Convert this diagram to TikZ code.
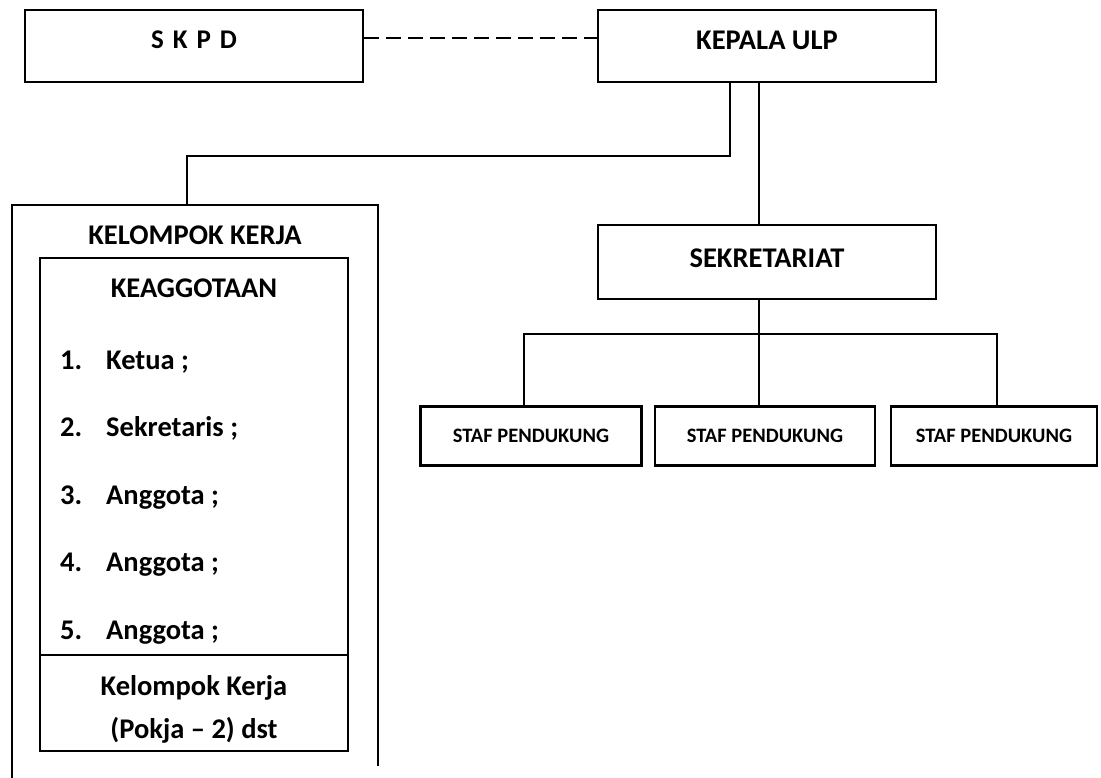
\documentclass[tikz,border=0pt]{standalone}
\usepackage{fontspec}
\setmainfont{Carlito}
\usetikzlibrary{positioning}
\tikzset{
  box/.style={draw, line width=2.5pt, inner sep=0pt, minimum width=338pt, minimum height=72pt},
  stafbox/.style={draw, line width=2.5pt, inner sep=0pt, minimum height=59pt, font=\bfseries\fontsize{20.5}{22}\selectfont},
  big/.style={font=\bfseries\fontsize{28.5}{32}\selectfont, inner sep=0pt},
  conn/.style={line width=2.2pt},
  item/.style={big, anchor=west, text height=20pt, text depth=6pt}
}
\begin{document}
\begin{tikzpicture}[x=1pt,y=-1pt]
\useasboundingbox (0,0) rectangle (1101,778);
% top boxes
\node[box, font=\bfseries\fontsize{27}{30}\selectfont, text depth=12pt] (skpd) at (194,46) {S\hspace{0.33em}K\hspace{0.33em}P\hspace{0.33em}D};
\node[box, big, text depth=12pt] (kep) at (767,46) {KEPALA ULP};
\node[box, big, minimum height=74pt, text depth=8pt] (sek) at (767,262) {SEKRETARIAT};
% staff boxes
\node[stafbox, minimum width=221pt] (s1) at (531,436) {STAF PENDUKUNG};
\node[stafbox, minimum width=220pt] (s2) at (765,436) {STAF PENDUKUNG};
\node[stafbox, minimum width=206pt] (s3) at (994,436) {STAF PENDUKUNG};
% kelompok kerja outer frame (bottom edge outside the picture)
\node[minimum width=366pt, minimum height=573pt, inner sep=0pt] (kk) at (195,491.5) {};
\draw[line width=2.5pt] (kk.south west) -- (kk.north west) -- (kk.north east) -- ([yshift=12pt]kk.south east);
\node[big] (kkt) at (195,235) {KELOMPOK KERJA};
% inner box
\node[draw, line width=2.5pt, minimum width=308pt, minimum height=493pt, inner sep=0pt] (inner) at (194,504.5) {};
\coordinate (divl) at (40,655);
\draw[line width=2.5pt] (divl) -- (divl -| inner.east);
\node[big] (kea) at (194,288) {KEAGGOTAAN};
\node[item] (n1) at (60,362) {1.};
\node[item] (i1) at (106,362) {Ketua ;};
\node[item] (n2) at (60,429.5) {2.};
\node[item] (i2) at (106,429.5) {Sekretaris ;};
\node[item] (n3) at (60,497) {3.};
\node[item] (i3) at (106,497) {Anggota ;};
\node[item] (n4) at (60,564.5) {4.};
\node[item] (i4) at (106,564.5) {Anggota ;};
\node[item] (n5) at (60,632) {5.};
\node[item] (i5) at (106,632) {Anggota ;};
\node[big] (pk1) at (194,688) {Kelompok Kerja};
\node[big] (pk2) at (194,730) {(Pokja -- 2) dst};
% connectors
\draw[conn, line width=2.6pt, dash pattern=on 15pt off 7pt] ([yshift=8pt]skpd.east) -- ([yshift=8pt]kep.west);
\draw[conn] ([xshift=-37pt]kep.south) -- ++(0,73) -| ([xshift=-8pt]kk.north);
\draw[conn, line width=2.8pt] ([xshift=-8pt]kep.south) -- ([xshift=-8pt]sek.north);
\draw[conn] ([xshift=-8pt]sek.south) -- ++(0,34) coordinate (bus);
\draw[conn] ([xshift=-7pt]s1.north) |- (bus) -| ([xshift=3pt]s3.north);
\draw[conn] (bus) -- (bus |- s2.north);
\end{tikzpicture}
\end{document}
